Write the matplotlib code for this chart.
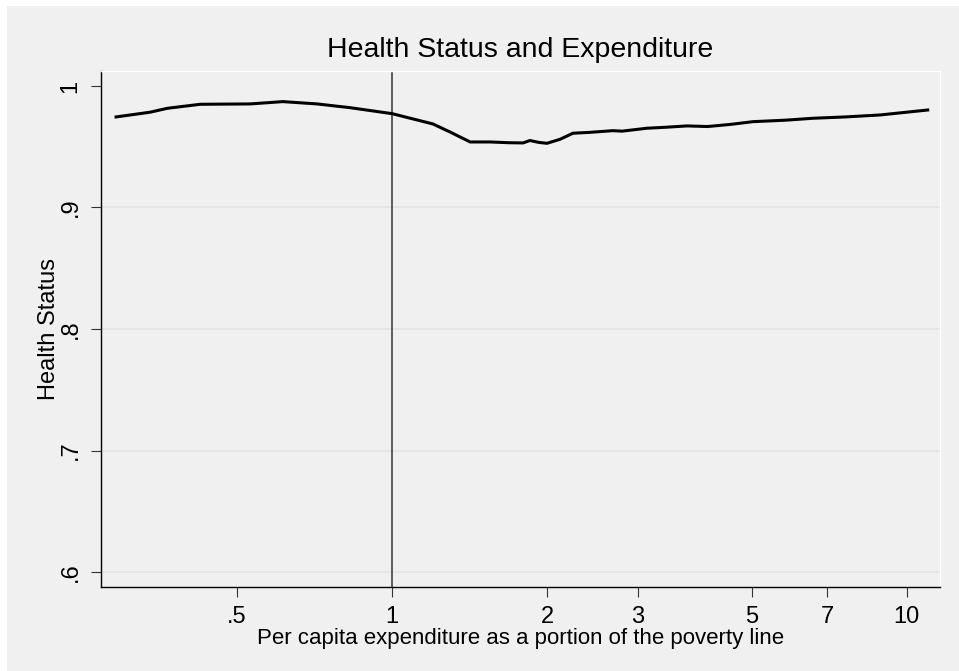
import matplotlib.pyplot as plt
from matplotlib.patches import Rectangle

# Suavizado de status de saúde por gasto per capita (razão da linha de pobreza)
gasto = [0.291, 0.339, 0.366, 0.424, 0.530, 0.614, 0.715, 0.829, 1.0,
         1.201, 1.296, 1.418, 1.550, 1.680, 1.796, 1.853, 1.930, 2.0,
         2.120, 2.246, 2.420, 2.686, 2.800, 3.127, 3.400, 3.740, 4.100,
         4.532, 5.023, 5.800, 6.571, 7.600, 8.864, 10.98]
saude = [0.9745, 0.9784, 0.9816, 0.9849, 0.9852, 0.9871, 0.9852, 0.9821, 0.9772,
         0.9687, 0.9621, 0.9539, 0.9539, 0.9533, 0.9531, 0.9551, 0.9535, 0.9528,
         0.9561, 0.9611, 0.9618, 0.9632, 0.9628, 0.9652, 0.9660, 0.9671, 0.9666,
         0.9683, 0.9706, 0.9718, 0.9734, 0.9745, 0.9761, 0.9802]

xticks = [0.5, 1, 2, 3, 5, 7, 10]
xticklabels = [".5", "1", "2", "3", "5", "7", "10"]
yticks = [0.6, 0.7, 0.8, 0.9, 1.0]
yticklabels = [".6", ".7", ".8", ".9", "1"]

fundo = "#f0f0f0"
plt.rcParams["font.family"] = ["Liberation Sans", "DejaVu Sans"]

fig = plt.figure(figsize=(9.59, 6.71), dpi=100, facecolor="white")
fig.patches.append(Rectangle((7 / 959, 0), 1, 1 - 6 / 671, transform=fig.transFigure,
                             facecolor=fundo, edgecolor="none", zorder=-1))

ax = fig.add_axes([0.1053, 0.1252, 0.8749, 0.769])
ax.set_facecolor(fundo)
ax.set_xscale("log")
ax.set_xlim(0.272, 11.6)
ax.set_ylim(0.5877, 1.0123)

# grade horizontal
for v in yticks[:-1]:
    ax.axhline(v, color="#e3e3e3", linewidth=1.2, zorder=0)

ax.axvline(1, color="#333333", linewidth=1.1, zorder=1)
ax.plot(gasto, saude, color="black", linewidth=2.2, zorder=2)

ax.set_xticks(xticks)
ax.set_xticklabels(xticklabels)
ax.xaxis.set_minor_locator(plt.NullLocator())
ax.set_yticks(yticks)
ax.set_yticklabels(yticklabels, rotation=90, va="center")
ax.tick_params(axis="both", direction="out", length=7, width=0.8, pad=7,
               labelsize=17, color="#333333")

for lado in ["top", "right"]:
    ax.spines[lado].set_color("white")
    ax.spines[lado].set_linewidth(1)
for lado in ["left", "bottom"]:
    ax.spines[lado].set_color("black")
    ax.spines[lado].set_linewidth(1)

ax.set_title("Health Status and Expenditure", fontsize=20.5, pad=10)
ax.set_xlabel("Per capita expenditure as a portion of the poverty line", fontsize=16,
              labelpad=0)
ax.set_ylabel("Health Status", fontsize=17, labelpad=0)

fig.savefig("out.png", dpi=100, facecolor=fig.get_facecolor())
